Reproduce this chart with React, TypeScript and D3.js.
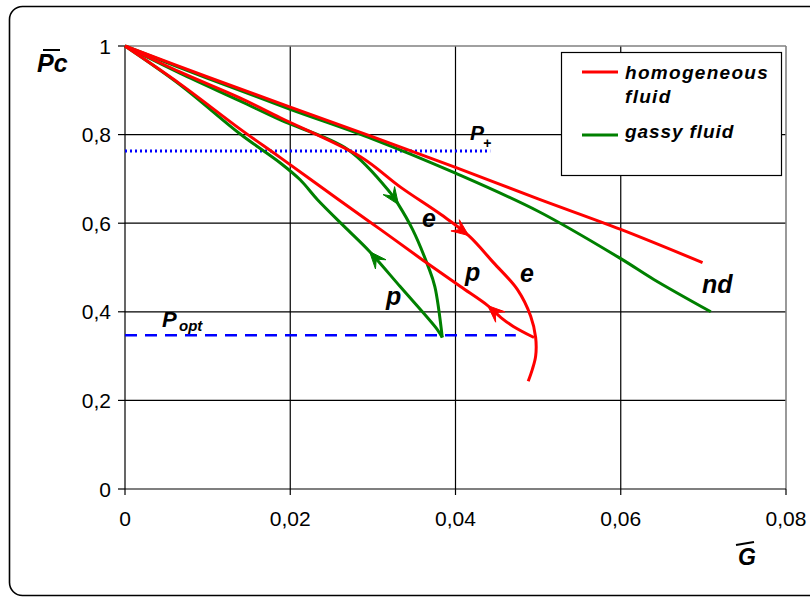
import React from "react";
import * as d3 from "d3";

type Pt = [number, number];

// Homogeneous fluid (red)
const redND: Pt[] = [[0, 1], [0.01, 0.93], [0.02, 0.862], [0.03, 0.795], [0.04, 0.726], [0.05, 0.655], [0.06, 0.586], [0.0699, 0.511]];
const redE: Pt[] = [[0, 1], [0.0067, 0.941], [0.0139, 0.883], [0.0188, 0.838], [0.0285, 0.75], [0.0333, 0.682], [0.0382, 0.62], [0.0416, 0.572], [0.0446, 0.511], [0.0475, 0.45], [0.0491, 0.39], [0.0497, 0.342], [0.0497, 0.30], [0.0493, 0.27], [0.0488, 0.243]];
const redP: Pt[] = [[0, 1], [0.0067, 0.914], [0.0139, 0.813], [0.0188, 0.748], [0.0257, 0.655], [0.0309, 0.586], [0.0361, 0.516], [0.0406, 0.457], [0.0439, 0.414], [0.0455, 0.387], [0.047, 0.367], [0.0495, 0.342]];
// Gassy fluid (green)
const greenND: Pt[] = [[0, 1], [0.01, 0.927], [0.02, 0.857], [0.03, 0.79], [0.04, 0.713], [0.05, 0.627], [0.06, 0.52], [0.064, 0.473], [0.0709, 0.40]];
const greenE: Pt[] = [[0, 1], [0.0067, 0.938], [0.0139, 0.876], [0.0188, 0.833], [0.027, 0.766], [0.0321, 0.669], [0.0331, 0.642], [0.0348, 0.586], [0.0367, 0.502], [0.0375, 0.457], [0.0384, 0.342]];
const greenP: Pt[] = [[0, 1], [0.0067, 0.912], [0.0139, 0.802], [0.0188, 0.736], [0.0212, 0.698], [0.0233, 0.653], [0.0269, 0.586], [0.0296, 0.536], [0.0333, 0.457], [0.0378, 0.36], [0.0384, 0.342]];

// arrows: series, vertex index of the tip, direction (+1 forward, -1 backward)
const arrows: { s: Pt[]; i: number; dir: number; color: string }[] = [
  { s: redE, i: 7, dir: 1, color: "#ff0000" },
  { s: greenE, i: 6, dir: 1, color: "#008000" },
  { s: redP, i: 8, dir: -1, color: "#ff0000" },
  { s: greenP, i: 7, dir: -1, color: "#008000" },
];

const xTicks = [0, 0.02, 0.04, 0.06, 0.08];
const yTicks = [0, 0.2, 0.4, 0.6, 0.8, 1];
const pPlus = 0.763;
const pPlusEnd = 0.0442;
const pOpt = 0.347;
const pOptEnd = 0.0473;

const fmt = (v: number) => (v === 0 ? "0" : v === 1 ? "1" : String(+v.toFixed(2)).replace(".", ","));

export default function App() {
  const W = 810, H = 598;
  const x = d3.scaleLinear().domain([0, 0.08]).range([125, 786]);
  const y = d3.scaleLinear().domain([0, 1]).range([489, 46]);
  const line = d3.line<Pt>().x((d) => x(d[0])).y((d) => y(d[1])).curve(d3.curveCatmullRom.alpha(0.5));
  const font = "'Liberation Sans', Arial, sans-serif";

  const arrowPath = (a: { s: Pt[]; i: number; dir: number }) => {
    const t = a.s[a.i];
    const prev = a.s[a.i - a.dir];
    const tx = x(t[0]), ty = y(t[1]);
    const px = x(prev[0]), py = y(prev[1]);
    let dx = tx - px, dy = ty - py;
    const len = Math.hypot(dx, dy);
    dx /= len; dy /= len;
    const nx = -dy, ny = dx;
    const L = 17, Wd = 7;
    const p1 = [tx - L * dx + Wd * nx, ty - L * dy + Wd * ny];
    const p2 = [tx - 0.6 * L * dx, ty - 0.6 * L * dy];
    const p3 = [tx - L * dx - Wd * nx, ty - L * dy - Wd * ny];
    return `M${tx},${ty}L${p1[0]},${p1[1]}L${p2[0]},${p2[1]}L${p3[0]},${p3[1]}Z`;
  };

  return (
    <div style={{ position: "fixed", left: 0, top: 0, width: W, height: H, background: "#fff" }}>
      <svg width={W} height={H} style={{ display: "block" }} fontFamily={font}>
        <rect x={0} y={0} width={W} height={H} fill="#fff" />
        <rect x={9.5} y={6.5} width={830} height={589} rx={13} fill="none" stroke="#000" strokeWidth={1.6} />
        {/* gridlines */}
        {yTicks.filter((v) => v > 0 && v < 1).map((v) => (
          <line key={"gy" + v} x1={x(0)} x2={x(0.08)} y1={y(v)} y2={y(v)} stroke="#000" strokeWidth={1.2} />
        ))}
        {xTicks.filter((v) => v > 0 && v < 0.08).map((v) => (
          <line key={"gx" + v} x1={x(v)} x2={x(v)} y1={y(0)} y2={y(1)} stroke="#000" strokeWidth={1.2} />
        ))}
        {/* plot border top/right */}
        <line x1={x(0)} x2={x(0.08)} y1={y(1)} y2={y(1)} stroke="#808080" strokeWidth={1.6} />
        <line x1={x(0.08)} x2={x(0.08)} y1={y(1)} y2={y(0)} stroke="#808080" strokeWidth={1.6} />
        {/* axes */}
        <line x1={x(0)} x2={x(0)} y1={y(0)} y2={y(1)} stroke="#000" strokeWidth={1.2} />
        <line x1={x(0)} x2={x(0.08)} y1={y(0)} y2={y(0)} stroke="#000" strokeWidth={1.2} />
        {yTicks.map((v) => (
          <g key={"ty" + v}>
            <line x1={x(0) - 7} x2={x(0)} y1={y(v)} y2={y(v)} stroke="#000" strokeWidth={1.2} />
            <text x={111} y={y(v) + 7.5} textAnchor="end" fontSize={21}>{fmt(v)}</text>
          </g>
        ))}
        {xTicks.map((v) => (
          <g key={"tx" + v}>
            <line x1={x(v)} x2={x(v)} y1={y(0)} y2={y(0) + 6} stroke="#000" strokeWidth={1.2} />
            <text x={x(v)} y={526} textAnchor="middle" fontSize={21}>{fmt(v)}</text>
          </g>
        ))}
        {/* reference lines */}
        <line x1={x(0)} x2={x(pPlusEnd)} y1={y(pPlus)} y2={y(pPlus)} stroke="#0000ff" strokeWidth={3} strokeDasharray="2,3" />
        <line x1={x(0)} x2={x(pOptEnd)} y1={y(pOpt)} y2={y(pOpt)} stroke="#0000ff" strokeWidth={2.5} strokeDasharray="12,8" />
        {/* curves */}
        {[greenND, greenE, greenP].map((s, i) => (
          <path key={"g" + i} d={line(s) || ""} fill="none" stroke="#008000" strokeWidth={3} strokeLinejoin="round" />
        ))}
        {[redND, redE, redP].map((s, i) => (
          <path key={"r" + i} d={line(s) || ""} fill="none" stroke="#ff0000" strokeWidth={3} strokeLinejoin="round" />
        ))}
        {arrows.map((a, i) => (
          <path key={"a" + i} d={arrowPath(a)} fill={a.color} stroke={a.color} strokeWidth={1} />
        ))}
        {/* labels */}
        <g fontWeight="bold" fontStyle="italic">
          <text x={470} y={140} fontSize={21}>P</text>
          <text x={483} y={148} fontSize={14}>+</text>
          <text x={162} y={327} fontSize={22}>P</text>
          <text x={179} y={331} fontSize={15}>opt</text>
          <text x={422} y={227} fontSize={25}>e</text>
          <text x={520} y={282} fontSize={25}>e</text>
          <text x={465} y={281} fontSize={25}>p</text>
          <text x={386} y={305} fontSize={25}>p</text>
          <text x={702} y={293} fontSize={25}>nd</text>
          <text x={37} y={72} fontSize={25}>Pc</text>
          <text x={738} y={565} fontSize={23}>G</text>
        </g>
        <line x1={43} x2={60} y1={50} y2={50} stroke="#000" strokeWidth={2} />
        <line x1={736} x2={754} y1={545} y2={542} stroke="#000" strokeWidth={2} />
        {/* legend */}
        <rect x={561.5} y={52.5} width={220} height={123} fill="#fff" stroke="#000" strokeWidth={1.2} />
        <line x1={582} x2={618} y1={72} y2={72} stroke="#ff0000" strokeWidth={3} />
        <line x1={582} x2={618} y1={135} y2={135} stroke="#008000" strokeWidth={3} />
        <g fontWeight="bold" fontStyle="italic" fontSize={19}>
          <text x={625} y={79} letterSpacing={1.3}>homogeneous</text>
          <text x={625} y={103} letterSpacing={1.3}>fluid</text>
          <text x={625} y={138} letterSpacing={0.9}>gassy fluid</text>
        </g>
      </svg>
    </div>
  );
}
